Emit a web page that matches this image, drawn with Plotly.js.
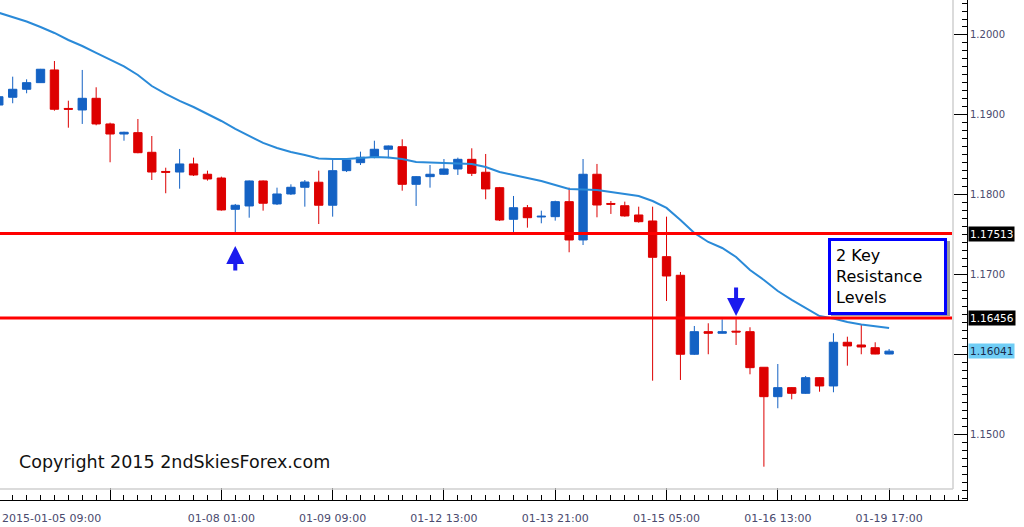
<!DOCTYPE html>
<html><head><meta charset="utf-8">
<script src="https://cdn.plot.ly/plotly-3.0.1.min.js"></script>
<style>html,body{margin:0;padding:0;background:#fff}#chart{width:1024px;height:527px}</style>
</head><body><div id="chart"></div>
<script>
// EURUSD H4 candles, Jan 2015
const times = [
 '01-05 09:00','01-05 13:00','01-05 17:00','01-05 21:00',
 '01-06 01:00','01-06 05:00','01-06 09:00','01-06 13:00','01-06 17:00','01-06 21:00',
 '01-07 01:00','01-07 05:00','01-07 09:00','01-07 13:00','01-07 17:00','01-07 21:00',
 '01-08 01:00','01-08 05:00','01-08 09:00','01-08 13:00','01-08 17:00','01-08 21:00',
 '01-09 01:00','01-09 05:00','01-09 09:00','01-09 13:00','01-09 17:00','01-09 21:00',
 '01-11 21:00',
 '01-12 01:00','01-12 05:00','01-12 09:00','01-12 13:00','01-12 17:00','01-12 21:00',
 '01-13 01:00','01-13 05:00','01-13 09:00','01-13 13:00','01-13 17:00','01-13 21:00',
 '01-14 01:00','01-14 05:00','01-14 09:00','01-14 13:00','01-14 17:00','01-14 21:00',
 '01-15 01:00','01-15 05:00','01-15 09:00','01-15 13:00','01-15 17:00','01-15 21:00',
 '01-16 01:00','01-16 05:00','01-16 09:00','01-16 13:00','01-16 17:00','01-16 21:00',
 '01-18 21:00',
 '01-19 01:00','01-19 05:00','01-19 09:00','01-19 13:00','01-19 17:00'
];
const openP = [
 1.19123,1.19220,1.19320,1.19403,
 1.19562,1.19080,1.19061,1.19207,1.18886,1.18760,
 1.18777,1.18531,1.18291,1.18284,1.18385,1.18256,
 1.18209,1.17817,1.17859,1.18172,1.17884,1.18009,
 1.18093,1.18156,1.17868,1.18301,1.18401,1.18469,
 1.18569,
 1.18601,1.18130,1.18226,1.18256,1.18322,1.18443,
 1.18281,1.18088,1.17692,1.17837,1.17721,1.17725,
 1.17913,1.17433,1.18256,1.17890,1.17862,1.17746,
 1.17671,1.17224,1.16991,1.16002,1.16285,1.16265,
 1.16291,1.16285,1.15839,1.15471,1.15584,1.15513,
 1.15709,
 1.15605,1.16152,1.16118,1.16084,1.16005
];
const highP = [
 1.19249,1.19478,1.19445,1.19575,
 1.19674,1.19177,1.19562,1.19345,1.18902,1.18789,
 1.18948,1.18735,1.18338,1.18573,1.18464,1.18301,
 1.18226,1.17884,1.18178,1.18178,1.18088,1.18130,
 1.18184,1.18301,1.18435,1.18447,1.18539,1.18676,
 1.18616,
 1.18694,1.18234,1.18372,1.18447,1.18464,1.18581,
 1.18510,1.18097,1.17984,1.17871,1.17800,1.17925,
 1.18088,1.18447,1.18385,1.17921,1.17913,1.17850,
 1.17850,1.17725,1.17032,1.16356,1.16390,1.16440,
 1.16440,1.16340,1.15839,1.15880,1.15590,1.15730,
 1.15715,
 1.16265,1.16222,1.16369,1.16152,1.16068
];
const lowP = [
 1.19098,1.19145,1.19270,1.19399,
 1.19052,1.18839,1.18886,1.18869,1.18406,1.18676,
 1.18519,1.18184,1.18018,1.18075,1.18234,1.18176,
 1.17800,1.17513,1.17712,1.17800,1.17871,1.17996,
 1.17850,1.17633,1.17725,1.18284,1.18372,1.18456,
 1.18456,
 1.18050,1.17859,1.18088,1.18247,1.18247,1.18234,
 1.17943,1.17671,1.17524,1.17587,1.17642,1.17675,
 1.17279,1.17370,1.17717,1.17759,1.17725,1.17650,
 1.15671,1.16669,1.15680,1.15993,1.16002,1.16262,
 1.16118,1.15751,1.14594,1.15326,1.15438,1.15505,
 1.15533,
 1.15526,1.15859,1.16002,1.16002,1.16002
];
const closeP = [
 1.19227,1.19320,1.19403,1.19571,
 1.19070,1.19070,1.19207,1.18886,1.18760,1.18782,
 1.18526,1.18284,1.18281,1.18385,1.18247,1.18197,
 1.17809,1.17868,1.18172,1.17893,1.18009,1.18093,
 1.18159,1.17868,1.18301,1.18435,1.18469,1.18569,
 1.18610,
 1.18130,1.18226,1.18256,1.18322,1.18443,1.18268,
 1.18072,1.17683,1.17837,1.17712,1.17730,1.17913,
 1.17433,1.18256,1.17871,1.17880,1.17734,1.17662,
 1.17216,1.16982,1.16002,1.16285,1.16265,1.16285,
 1.16281,1.15834,1.15471,1.15584,1.15513,1.15709,
 1.15605,
 1.16152,1.16106,1.16093,1.16005,1.16041
];
// 20-period moving average
const ma20 = [
 1.20279,1.20225,1.20169,1.20100,
 1.20025,1.19937,1.19862,1.19775,1.19687,1.19606,
 1.19499,1.19361,1.19261,1.19174,1.19098,1.19011,
 1.18923,1.18823,1.18735,1.18648,1.18585,1.18535,
 1.18497,1.18454,1.18447,1.18447,1.18460,1.18472,
 1.18466,
 1.18447,1.18410,1.18403,1.18397,1.18397,1.18385,
 1.18347,1.18284,1.18247,1.18209,1.18172,1.18122,
 1.18072,1.18065,1.18059,1.18034,1.18009,1.17984,
 1.17921,1.17834,1.17683,1.17521,1.17408,1.17333,
 1.17220,1.17057,1.16932,1.16794,1.16682,1.16582,
 1.16481,
 1.16450,1.16406,1.16375,1.16356,1.16331
];
const resistanceLevels = [1.17513, 1.16456];
const lastPrice = 1.16041;
const priceTicks = [1.15, 1.16, 1.17, 1.18, 1.19, 1.20];
const priceTickText = ['1.1500', '', '1.1700', '1.1800', '1.1900', '1.2000'];
const tickTimes = ['01-06 17:00','01-08 01:00','01-09 09:00','01-12 13:00','01-13 21:00','01-15 05:00','01-16 13:00','01-19 17:00'];
const tickText  = ['','01-08 01:00','01-09 09:00','01-12 13:00','01-13 21:00','01-15 05:00','01-16 13:00','01-19 17:00'];
const firstLabel = '2015-01-05 09:00';
const arrowCandles = ['01-08 05:00','01-16 01:00'];

const idx = times.map((t,i)=>i);
const FONT = '"DejaVu Sans", Verdana, sans-serif';
const PW = 967, PH = 500;
const px = v => v/PW, py = v => (PH - v)/PH;

const traces = [
 {type:'candlestick', x: idx, open: openP, high: highP, low: lowP, close: closeP,
  increasing:{line:{color:'#1462c4',width:1}, fillcolor:'#1462c4'},
  decreasing:{line:{color:'#dd0000',width:1}, fillcolor:'#dd0000'},
  whiskerwidth:0, hoverinfo:'skip', showlegend:false},
 {type:'scatter', mode:'lines', x: idx, y: ma20, line:{color:'#2a8ad8', width:2},
  hoverinfo:'skip', showlegend:false}
];

const shapes = [
 {type:'line', xref:'paper', yref:'paper', x0:px(953), x1:px(953), y0:py(489), y1:1, line:{color:'#cfcfcf', width:1.5}},
 {type:'line', xref:'paper', yref:'paper', x0:0, x1:px(953), y0:py(489), y1:py(489), line:{color:'#cfcfcf', width:1.5}},
 {type:'rect', xref:'paper', yref:'paper', x0:px(831), x1:px(950), y0:py(316), y1:py(241), fillcolor:'#9a9a9a', line:{width:0}}
];
resistanceLevels.forEach(l => shapes.push(
 {type:'line', xref:'paper', yref:'y', x0:0, x1:px(952), y0:l, y1:l, line:{color:'#ff0000', width:3}}
));

const annotations = [
 {xref:'paper', yref:'paper', x:0, y:py(518), xanchor:'left', yanchor:'middle', showarrow:false,
  text:firstLabel, font:{family:FONT, size:11, color:'#4a4a6e'}},
 {xref:'paper', yref:'paper', x:px(17), y:py(462), xanchor:'left', yanchor:'middle', showarrow:false,
  text:'Copyright 2015 2ndSkiesForex.com', font:{family:FONT, size:17.5, color:'#111'}},
 {xref:'paper', yref:'paper', x:px(828), y:py(238), xanchor:'left', yanchor:'top', showarrow:false,
  text:'2 Key<br>Resistance<br>Levels', align:'left', width:103,
  font:{family:FONT, size:16, color:'#000'}, bgcolor:'#fff', bordercolor:'#0000ff', borderwidth:3, borderpad:5},
 {xref:'x', yref:'y', x: times.indexOf(arrowCandles[0]), y:1.17358, ax:0, ay:26, showarrow:true, text:'',
  arrowhead:2, arrowsize:0.9, arrowwidth:4, arrowcolor:'#1a1aee'},
 {xref:'x', yref:'y', x: times.indexOf(arrowCandles[1]), y:1.16481, ax:0, ay:-30, showarrow:true, text:'',
  arrowhead:2, arrowsize:0.9, arrowwidth:4, arrowcolor:'#1a1aee'}
];
resistanceLevels.forEach(l => annotations.push(
 {xref:'paper', yref:'y', x:1, y:l, xanchor:'left', xshift:1, showarrow:false, text:l.toFixed(5),
  font:{family:FONT, size:10.5, color:'#fff'}, bgcolor:'#000', borderpad:1}
));
annotations.push({xref:'paper', yref:'y', x:1, y:lastPrice, xanchor:'left', xshift:1, showarrow:false,
  text:lastPrice.toFixed(5), font:{family:FONT, size:10.5, color:'#1a2a4a'}, bgcolor:'#6fcdf5', borderpad:1});

const layout = {
 width:1024, height:527, margin:{l:0, r:57, t:0, b:27},
 paper_bgcolor:'#fff', plot_bgcolor:'#fff', showlegend:false,
 boxgap:0.25, boxgroupgap:0.2,
 xaxis:{range:[0.087, 69.6], showgrid:false, zeroline:false, showline:true, linecolor:'#000', linewidth:1,
  ticks:'inside', ticklen:12, tickcolor:'#000', tickmode:'array',
  tickvals: tickTimes.map(t => times.indexOf(t)), ticktext: tickText, ticklabelstandoff:8,
  tickfont:{family:FONT, size:11, color:'#4a4a6e'},
  minor:{tickmode:'linear', tick0:0, dtick:1, ticks:'inside', ticklen:5, tickcolor:'#000'},
  rangeslider:{visible:false}, fixedrange:true},
 yaxis:{side:'right', range:[1.14177, 1.20438], tickmode:'array', tickvals: priceTicks, ticktext: priceTickText,
  showgrid:false, zeroline:false, showline:true, linecolor:'#000', linewidth:1,
  ticks:'inside', ticklen:13, tickcolor:'#000',
  tickfont:{family:FONT, size:10, color:'#4a4a6e'},
  minor:{tickmode:'linear', tick0:1.15, dtick:0.001, ticks:'inside', ticklen:5, tickcolor:'#000'}, fixedrange:true},
 shapes, annotations
};
Plotly.newPlot('chart', traces, layout, {displayModeBar:false, staticPlot:true});
</script>
</body></html>
